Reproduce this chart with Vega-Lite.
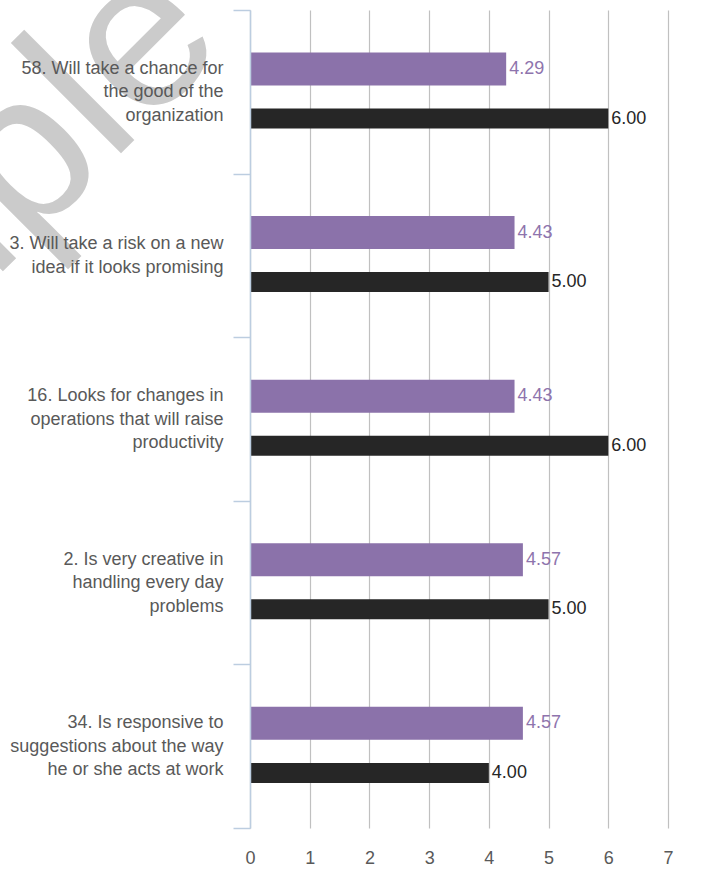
{
  "$schema": "https://vega.github.io/schema/vega-lite/v6.json",
  "autosize": {"type": "none"},
  "padding": {"left": 250, "top": 10, "right": 50, "bottom": 43},
  "width": 418,
  "height": 818,
  "background": "white",
  "config": {"view": {"stroke": null}, "font": "Liberation Sans"},
  "data": {
    "values": [
      {"item": "58. Will take a chance for|the good of the|organization", "series": "Others", "value": 4.29},
      {"item": "58. Will take a chance for|the good of the|organization", "series": "Self", "value": 6.0},
      {"item": "3. Will take a risk on a new|idea if it looks promising", "series": "Others", "value": 4.43},
      {"item": "3. Will take a risk on a new|idea if it looks promising", "series": "Self", "value": 5.0},
      {"item": "16. Looks for changes in|operations that will raise|productivity", "series": "Others", "value": 4.43},
      {"item": "16. Looks for changes in|operations that will raise|productivity", "series": "Self", "value": 6.0},
      {"item": "2. Is very creative in|handling every day|problems", "series": "Others", "value": 4.57},
      {"item": "2. Is very creative in|handling every day|problems", "series": "Self", "value": 5.0},
      {"item": "34. Is responsive to|suggestions about the way|he or she acts at work", "series": "Others", "value": 4.57},
      {"item": "34. Is responsive to|suggestions about the way|he or she acts at work", "series": "Self", "value": 4.0}
    ]
  },
  "layer": [
    {
      "data": {"values": [{"w": "Sample", "pos": 0.43, "cat": "58. Will take a chance for|the good of the|organization"}]},
      "mark": {"type": "text", "angle": -45, "fontSize": 215, "color": "#cbcbcb", "align": "right", "baseline": "alphabetic", "dy": -66},
      "encoding": {
        "text": {"field": "w"},
        "x": {"field": "pos", "type": "quantitative"},
        "y": {"field": "cat", "type": "nominal", "sort": null}
      }
    },
    {
      "transform": [{"filter": "datum.series === 'Others'"}],
      "mark": {"type": "bar", "height": 33, "color": "#8b72aa"},
      "encoding": {
        "x": {"field": "value", "type": "quantitative"},
        "y": {"field": "item", "type": "nominal", "sort": null},
        "yOffset": {"field": "series", "type": "nominal", "scale": {"domain": ["Others", "Self"], "paddingInner": 0, "paddingOuter": 0.65, "align": 0.53}}
      }
    },
    {
      "transform": [{"filter": "datum.series === 'Self'"}],
      "mark": {"type": "bar", "height": 20, "color": "#262626"},
      "encoding": {
        "x": {"field": "value", "type": "quantitative"},
        "y": {"field": "item", "type": "nominal", "sort": null},
        "yOffset": {"field": "series", "type": "nominal"}
      }
    },
    {
      "mark": {"type": "text", "align": "left", "baseline": "middle", "dx": 3, "fontSize": 18},
      "encoding": {
        "x": {"field": "value", "type": "quantitative",
          "scale": {"domain": [0, 7], "nice": false},
          "axis": {"title": null, "domain": false, "ticks": false, "grid": true, "gridColor": "#c0c0c0", "gridWidth": 1.2, "values": [0,1,2,3,4,5,6,7], "format": "d", "labelFlush": false, "labelFontSize": 18, "labelColor": "#595959", "labelPadding": 21, "zindex": 0}},
        "y": {"field": "item", "type": "nominal", "sort": null,
          "scale": {"paddingInner": 0, "paddingOuter": 0},
          "axis": {"title": null, "tickBand": "extent", "tickSize": 17, "tickColor": "#bccde0", "domainColor": "#bccde0", "domainWidth": 1.5, "tickWidth": 1.5, "labelFontSize": 18, "labelColor": "#595959", "labelPadding": 10, "labelLineHeight": 23.5, "labelExpr": "isValid(datum.value) ? split(datum.value, '|') : ''", "labelOffset": {"condition": {"test": "isValid(datum.value) && length(split(datum.value, '|')) == 3", "value": -23.5}, "value": -11.75}, "labelLimit": 300, "zindex": 1}},
        "yOffset": {"field": "series", "type": "nominal"},
        "text": {"field": "value", "type": "quantitative", "format": ".2f"},
        "color": {"field": "series", "type": "nominal", "scale": {"domain": ["Others", "Self"], "range": ["#8e74ad", "#262626"]}, "legend": null}
      }
    }
  ]
}
